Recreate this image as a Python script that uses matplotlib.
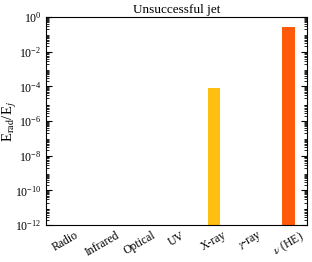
import matplotlib
matplotlib.use("Agg")
import matplotlib.pyplot as plt
from matplotlib.ticker import LogLocator

plt.rcParams['font.family'] = ['Liberation Serif', 'DejaVu Serif']
plt.rcParams['mathtext.fontset'] = 'stix'

bands = ["Radio", "Infrared", "Optical", "UV", "X-ray", r"$\gamma$-ray", r"$\nu$ (HE)"]
e_ratio = [0.0, 0.0, 0.0, 0.0, 8e-5, 0.0, 0.26]
colors = ["#7a0177", "#c51b8a", "#e7298a", "#fd8d3c", "#FFBF10", "#fe9929", "#FF5A0A"]


def main():
    fig = plt.figure(figsize=(3.12, 2.62), dpi=100)
    ax = fig.add_axes([0.148, 0.141, 0.836, 0.794])
    x = range(len(bands))
    vals = [v if v > 0 else 1e-20 for v in e_ratio]
    ax.bar(x, vals, width=0.33, color=colors)
    ax.set_yscale('log')
    ax.set_ylim(1e-12, 1)
    ax.set_xlim(-0.5, 6.5)
    ax.set_yticks([1e-12, 1e-10, 1e-8, 1e-6, 1e-4, 1e-2, 1])
    ax.yaxis.set_minor_locator(LogLocator(base=10, subs=range(2, 10), numticks=30))
    ax.tick_params(axis='y', which='both', direction='in', right=True, labelsize=8.5)
    ax.tick_params(axis='y', which='major', length=4)
    ax.tick_params(axis='y', which='minor', length=2)
    ax.set_xticks(list(x))
    ax.set_xticklabels(bands, rotation=30, fontsize=8.5, ha='center')
    ax.tick_params(axis='x', length=0, pad=3)
    ax.set_ylabel(r"E$_{\rm rad}$/E$_j$", fontsize=10.5)
    ax.yaxis.set_label_coords(-0.105, 0.5)
    ax.set_title("Unsuccessful jet", fontsize=9.5, pad=3)
    fig.savefig("out.png", dpi=100)


if __name__ == "__main__":
    main()
